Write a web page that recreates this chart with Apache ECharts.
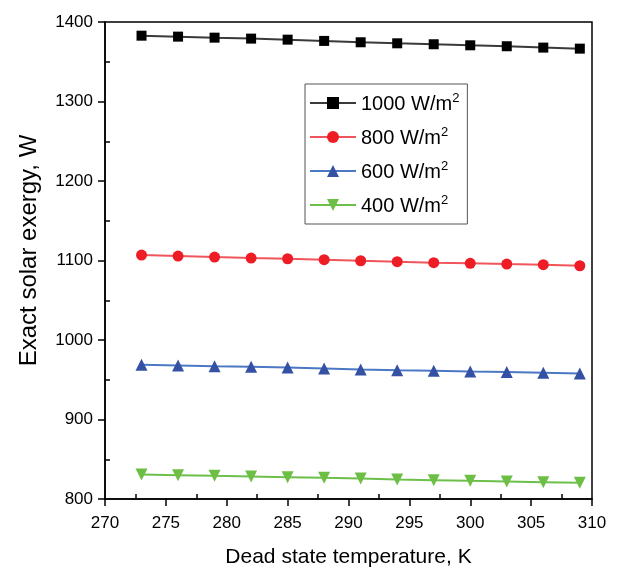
<!DOCTYPE html>
<html><head><meta charset="utf-8">
<script src="https://cdn.jsdelivr.net/npm/echarts@6/dist/echarts.min.js"></script>
<style>html,body{margin:0;padding:0;background:#fff}#c{width:622px;height:573px}</style>
</head><body><div id="c"></div>
<script>
const temps = [273,276,279,282,285,288,291,294,297,300,303,306,309];
const s1000 = [1382.8,1381.6,1380.3,1379.1,1377.8,1376.2,1374.5,1373.2,1372.0,1370.7,1369.5,1367.8,1366.5];
const s800  = [1106.8,1105.6,1104.3,1103.1,1102.2,1101.0,1099.7,1098.5,1097.2,1096.4,1095.5,1094.7,1093.4];
const s600  = [968.8,968.0,967.1,966.3,965.5,964.2,963.0,962.1,961.3,960.4,959.6,958.8,957.9];
const s400  = [830.8,830.0,829.1,828.3,827.5,826.6,825.8,824.5,823.7,822.8,822.0,821.2,820.4];
const names = ['1000','800','600','400'];
const xTitle = 'Dead state temperature, K';
const yTitle = 'Exact solar exergy, W';

const FONT = 'Liberation Sans, Arial, sans-serif';
const zip = a => temps.map((t,i)=>[t,a[i]]);
const specs = [
  {d:s1000, line:'#3a3a3a', mk:'#000000', sym:'rect', size:10},
  {d:s800,  line:'#f0555b', mk:'#ee1d25', sym:'circle', size:11},
  {d:s600,  line:'#4a78c4', mk:'#3451a3', sym:'triangle', size:12},
  {d:s400,  line:'#6cc04a', mk:'#6cbf44', sym:'triangle', size:12, rot:180}
];
const series = specs.map((s,i)=>({
  name: names[i], type:'line', data: zip(s.d), xAxisIndex:0, yAxisIndex:0,
  symbol: s.sym, symbolSize: s.size, symbolRotate: s.rot||0, showSymbol:true,
  lineStyle:{color:s.line,width:2}, itemStyle:{color:s.mk},
  emphasis:{disabled:true}, animation:false
}));
const chart = echarts.init(document.getElementById('c'), null, {renderer:'canvas'});
const axLine = {show:true, lineStyle:{color:'#000',width:1.5}};
const plain = v => String(v);
chart.setOption({
  animation:false,
  backgroundColor:'#fff',
  grid:{left:105,right:30,top:22,bottom:73,show:true,borderColor:'#000',borderWidth:1.5,containLabel:false},
  legend:{
    orient:'vertical', left:305, top:84, width:158,
    padding:[8,8,7,4], itemGap:11, itemWidth:46, itemHeight:15,
    borderColor:'#555', borderWidth:1,
    data: names,
    formatter: n => '{a|'+n+' W/m}{s|2}',
    textStyle:{fontFamily:FONT, color:'#000', rich:{
      a:{fontSize:20,fontFamily:FONT,color:'#000',verticalAlign:'bottom',lineHeight:22},
      s:{fontSize:13,fontFamily:FONT,color:'#000',verticalAlign:'top',padding:[0,0,10,0],lineHeight:22}
    }},
    itemStyle:{borderWidth:0}
  },
  xAxis:[
    {type:'value', min:270, max:310, interval:5, position:'bottom',
     name:xTitle, nameLocation:'middle', nameGap:48,
     nameTextStyle:{fontFamily:FONT,fontSize:21,color:'#000'},
     axisLine:axLine, axisTick:{show:true,inside:false,length:7,lineStyle:{color:'#000',width:1.5}},
     axisLabel:{fontFamily:FONT,fontSize:17,color:'#000',margin:16,formatter:plain},
     splitLine:{show:false}},
    {type:'value', min:270, max:310, interval:5, position:'bottom',
     axisLine:{show:false}, axisTick:{show:false,inside:true},
     minorTick:{show:true,splitNumber:2,length:5,lineStyle:{color:'#000',width:1.5}},
     axisLabel:{show:false}, splitLine:{show:false}, minorSplitLine:{show:false}}
  ],
  yAxis:[
    {type:'value', min:800, max:1400, interval:100, position:'left',
     name:yTitle, nameLocation:'middle', nameGap:64, nameRotate:90,
     nameTextStyle:{fontFamily:FONT,fontSize:24,color:'#000',padding:[0,0,0,20]},
     axisLine:axLine, axisTick:{show:true,inside:false,length:7,lineStyle:{color:'#000',width:1.5}},
     axisLabel:{fontFamily:FONT,fontSize:17,color:'#000',margin:12,formatter:plain},
     splitLine:{show:false}},
    {type:'value', min:800, max:1400, interval:100, position:'left',
     axisLine:{show:false}, axisTick:{show:false,inside:true},
     minorTick:{show:true,splitNumber:2,length:5,lineStyle:{color:'#000',width:1.5}},
     axisLabel:{show:false}, splitLine:{show:false}, minorSplitLine:{show:false}}
  ],
  series: series
});
</script></body></html>
